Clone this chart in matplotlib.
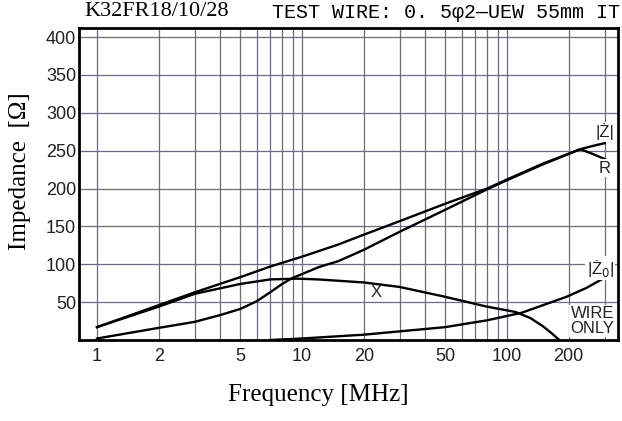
import matplotlib
matplotlib.use("Agg")
import matplotlib.pyplot as plt
from matplotlib.ticker import FixedLocator, NullLocator, FixedFormatter

# ---- data ----
z_freq = [1, 2, 3, 5, 7, 10, 15, 20, 30, 50, 80, 100, 150, 200, 228, 260, 300]
z_vals = [17, 46, 63, 83, 97, 110, 126, 139, 157, 180, 200, 212, 233, 246, 252, 256, 260]

r_freq = [1, 2, 3, 4, 5, 6, 7, 8, 9, 10, 12, 13, 15, 20, 30, 50, 80, 100, 150, 228, 260, 300]
r_vals = [2, 16, 24, 33, 41, 51, 63, 74, 82, 87, 96, 99, 104, 119, 143, 172, 199, 211, 232, 252, 246, 239]

x_freq = [1, 2, 3, 5, 7, 9.5, 12, 20, 30, 50, 80, 110, 130, 150, 165, 180]
x_vals = [17, 44, 61, 74, 80, 81, 80, 76, 70, 57, 44, 37, 29, 18, 9, 0]

z0_freq = [7, 10, 20, 50, 80, 118, 195, 245, 294]
z0_vals = [0, 2, 7, 17, 26, 36, 57, 69, 81]

x_tick_vals = [1, 2, 5, 10, 20, 50, 100, 200]
x_tick_labels = ["1", "2", "5", "10", "20", "50", "100", "200"]
x_grid_vals = [1, 2, 3, 4, 5, 6, 7, 8, 9, 10, 20, 30, 40, 50, 60, 70, 80, 90, 100, 200, 300]
y_tick_vals = [50, 100, 150, 200, 250, 300, 350, 400]

title_left = "K32FR18/10/28"
title_right = "TEST WIRE: 0. 5φ2—UEW 55mm IT"
x_label = "Frequency [MHz]"
y_label = "Impedance  [Ω]"

# ---- figure ----
fig = plt.figure(figsize=(6.22, 4.21), dpi=100)
ax = fig.add_axes([79 / 622, 1 - 340 / 421, (618 - 79) / 622, (340 - 28) / 421])

ax.set_xscale("log")
ax.set_xlim(0.817, 348)
ax.set_ylim(0, 412)

grid_color = "#6c6c80"
for gx in x_grid_vals:
    ax.axvline(gx, color=grid_color, lw=0.9, zorder=1)
for gy in y_tick_vals:
    ax.axhline(gy, color=grid_color, lw=0.9, zorder=1)

lw = 1.7
for fx, fy in [(z_freq, z_vals), (r_freq, r_vals), (x_freq, x_vals), (z0_freq, z0_vals)]:
    ax.plot(fx, fy, color="black", lw=lw, zorder=3, solid_joinstyle="round")

ax.xaxis.set_major_locator(FixedLocator(x_tick_vals))
ax.xaxis.set_major_formatter(FixedFormatter(x_tick_labels))
ax.xaxis.set_minor_locator(NullLocator())
ax.yaxis.set_major_locator(FixedLocator(y_tick_vals))
ax.yaxis.set_minor_locator(NullLocator())

ax.tick_params(axis="both", length=0, labelsize=13, colors="#222222")
ax.tick_params(axis="x", pad=6)
ax.tick_params(axis="y", pad=2)
for lab in ax.get_xticklabels() + ax.get_yticklabels():
    lab.set_fontfamily("Liberation Sans")

for sp in ax.spines.values():
    sp.set_linewidth(2.0)
    sp.set_color("black")
    sp.set_zorder(4)

bbox = dict(facecolor="white", edgecolor="none", pad=1.0)
lab_kw = dict(fontfamily="Liberation Sans", fontsize=12, color="#222222", zorder=5)
ax.text(300, 275, "|Ż|", ha="center", va="center", bbox=bbox, **lab_kw)
ax.text(300, 227, "R", ha="center", va="center", bbox=bbox, **lab_kw)
ax.text(285, 95, "|Ż$_0$|", ha="center", va="center", bbox=bbox, **lab_kw)
ax.text(335, 25, "WIRE\nONLY", ha="right", va="center", multialignment="right",
        linespacing=0.95, bbox=bbox, **lab_kw)
ax.text(23, 63, "X", ha="center", va="center", **lab_kw)

fig.text(84 / 622, 1 - 11 / 421, title_left, ha="left", va="center",
         fontfamily="Liberation Serif", fontsize=16)
fig.text(272 / 622, 1 - 12 / 421, title_right, ha="left", va="center",
         fontfamily="Liberation Mono", fontsize=14.4)
fig.text(318 / 622, 1 - 395 / 421, x_label, ha="center", va="center",
         fontfamily="Liberation Serif", fontsize=18)
fig.text(20 / 622, 1 - 171 / 421, y_label, ha="center", va="center", rotation=90,
         fontfamily="Liberation Serif", fontsize=18)

fig.savefig("out.png", dpi=100, facecolor="white")
